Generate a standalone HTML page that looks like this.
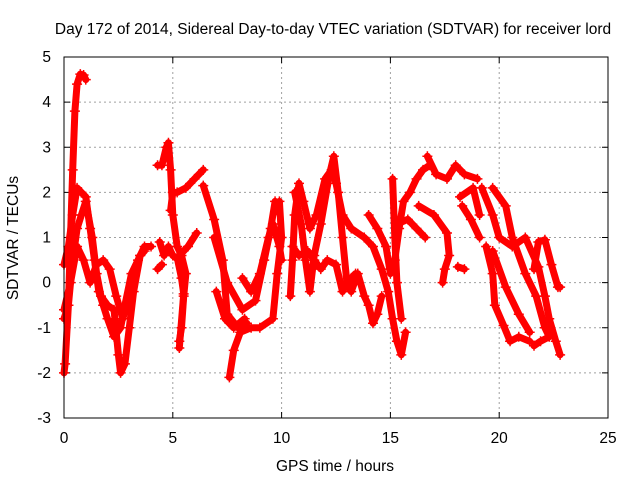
<!DOCTYPE html>
<html><head><meta charset="utf-8"><style>
body{margin:0;background:#fff}
svg{display:block;font-family:"Liberation Sans",Arial,sans-serif}
</style></head><body>
<svg id="chart" width="640" height="480">
<text x="333" y="34" font-size="15.5" text-anchor="middle">Day 172 of 2014, Sidereal Day-to-day VTEC variation (SDTVAR) for receiver lord</text>
<text x="335" y="471" font-size="15.5" text-anchor="middle">GPS time / hours</text>
<text transform="translate(18,238) rotate(-90)" font-size="15.5" text-anchor="middle">SDTVAR / TECUs</text>
<g id="grid"></g>
<g id="ticks"></g>
<g id="series"></g>
<rect x="64" y="57" width="544" height="361" fill="none" stroke="#000" stroke-width="1"/>
</svg>
<script>
const xTicks=[0,5,10,15,20,25];
const yTicks=[-3,-2,-1,0,1,2,3,4,5];
const tracks=[
[[0.0,-2.0],[0.05,-1.8],[0.2,-0.5],[0.3,1.0],[0.4,2.5],[0.5,3.8],[0.6,4.4],[0.75,4.62],[0.9,4.6],[1.0,4.5]],
[[0,0.4],[0.2,0.8],[0.4,1.5],[0.6,2.1],[0.8,2.0],[1.0,1.9],[1.2,1.2],[1.4,0.5],[1.6,-0.2],[1.8,-0.5],[2.0,-0.8],[2.3,-1.2],[2.6,-1.0],[2.8,-0.5],[3.1,0.2],[3.4,0.5],[3.7,0.8],[4.0,0.8]],
[[0,-0.8],[0.2,-0.5],[0.4,0.5],[0.6,1.2],[0.8,1.5],[1.0,1.8],[1.3,1.0],[1.5,0.2],[1.7,-0.3],[2.0,-0.5],[2.3,-0.6],[2.5,-1.6],[2.6,-2.0],[2.8,-1.8],[3.0,-1.0],[3.2,-0.2],[3.5,0.6],[3.7,0.7]],
[[0,-0.6],[0.3,0.0],[0.6,0.8],[0.9,0.5],[1.2,0.0],[1.5,0.4],[1.8,0.5],[2.1,0.3],[2.4,-0.3],[2.7,-0.8],[3.0,-0.3],[3.3,0.3],[3.5,0.6]],
[[4.3,2.6],[4.5,2.6],[4.7,3.0],[4.8,3.1],[4.9,2.5],[5.0,1.5],[5.2,0.8],[5.4,0.6],[5.6,0.2],[5.5,-0.3],[5.4,-1.0],[5.3,-1.3]],
[[4.4,0.9],[4.6,0.6],[4.8,0.8],[5.0,0.6],[5.3,0.5]],
[[4.3,0.3],[4.5,0.4]],
[[4.9,1.6],[5.0,2.0],[5.2,2.0],[5.6,2.1],[6.0,2.3],[6.4,2.5]],
[[6.1,1.1],[5.7,0.8],[5.2,0.55],[5.4,0.1],[5.5,-0.25],[5.3,-1.45]],
[[6.4,2.15],[6.9,1.4],[7.3,0.5],[7.5,-0.7],[8.0,-1.0],[8.4,-0.9]],
[[7.6,-2.1],[7.8,-1.5],[8.1,-1.1],[8.6,-1.0],[9.0,-1.0],[9.6,-0.8],[9.8,0.2],[10.0,1.0],[9.9,1.8]],
[[6.9,1.0],[7.5,0.0],[8.2,-0.6],[8.8,-0.4],[9.2,0.5],[9.5,1.2],[9.7,1.8],[9.8,1.6]],
[[7.0,-0.2],[7.4,-0.8],[7.8,-1.0],[8.3,-0.8]],
[[8.2,0.1],[8.6,-0.2],[9.0,0.2],[9.4,1.0],[9.6,1.3],[9.9,0.8],[10.0,0.5]],
[[10.4,-0.3],[10.5,0.5],[10.6,1.5],[10.8,2.2],[11.0,1.8],[11.3,1.2],[11.6,1.5],[12.0,2.3],[12.3,2.5],[12.5,2.2],[12.8,1.5],[13.2,1.2],[13.8,1.0],[14.2,0.8],[14.6,0.3],[14.9,-0.2],[15.1,-0.8],[15.3,-1.3],[15.5,-1.6],[15.7,-1.1]],
[[10.6,2.0],[10.9,1.3],[11.1,0.5],[11.3,-0.2],[11.5,0.6],[11.8,1.3],[12.2,2.4],[12.4,2.8],[12.6,2.0],[12.8,1.0],[13.0,0.0],[13.2,-0.2],[13.5,0.2],[13.8,-0.3],[14.0,-0.5],[14.2,-0.9],[14.4,-0.7],[14.6,-0.3]],
[[10.5,0.8],[10.8,0.6],[11.2,0.7],[11.5,0.5],[11.8,0.3],[12.1,0.5],[12.5,0.4],[12.8,-0.2],[13.0,0.0],[13.4,0.2]],
[[14.0,1.5],[14.4,1.2],[14.8,0.8],[15.0,0.2],[15.2,0.5],[15.4,1.2],[15.6,1.8],[15.9,2.0],[16.2,2.3],[16.5,2.5],[16.8,2.6]],
[[15.1,2.3],[15.2,1.0],[15.3,0.0],[15.5,-0.8]],
[[15.3,1.3],[15.8,1.4],[16.2,1.2],[16.6,1.0]],
[[16.3,1.7],[17.0,1.5],[17.6,1.1],[17.7,0.6],[17.5,0.3],[17.4,0.0]],
[[16.7,2.8],[17.1,2.4],[17.6,2.3],[18.0,2.6],[18.4,2.4],[19.0,2.3]],
[[18.3,1.7],[18.7,1.4],[19.1,1.0]],
[[18.2,1.9],[18.8,2.1],[19.1,1.5]],
[[18.1,0.35],[18.4,0.3]],
[[19.2,2.1],[19.7,1.5],[20.0,1.0],[20.6,0.8],[21.2,1.0],[21.8,0.35],[22.1,-0.3],[22.3,-0.8],[22.6,-1.3],[22.8,-1.6]],
[[19.7,2.1],[20.3,1.7],[20.6,1.0],[21.2,0.2],[21.7,-0.3],[22.1,-1.0],[22.3,-1.2],[21.9,-1.3],[21.6,-1.4]],
[[19.4,0.8],[19.7,0.2],[19.8,-0.5],[20.2,-0.95],[20.5,-1.3],[20.9,-1.2],[21.4,-1.3]],
[[19.7,0.7],[20.3,-0.1],[20.9,-0.7],[21.4,-1.1]],
[[21.6,0.3],[21.8,0.9],[22.1,0.95],[22.4,0.4],[22.7,-0.1],[22.8,-0.1]]
];
const NS='http://www.w3.org/2000/svg';
const X0=64,X1=608,Y0=418,Y1=57;
function sx(h){return X0+(h-0)/(25-0)*(X1-X0);}
function sy(v){return Y0-(v-(-3))/(5-(-3))*(Y0-Y1);}
const grid=document.getElementById('grid'),ticks=document.getElementById('ticks'),ser=document.getElementById('series');
function mk(tag,attrs,parent){const e=document.createElementNS(NS,tag);for(const k in attrs)e.setAttribute(k,attrs[k]);parent.appendChild(e);return e;}
xTicks.forEach(t=>{
  const x=sx(t);
  if(t>0&&t<25){const g=mk('line',{x1:x,x2:x,y1:Y1,y2:Y0,stroke:'#a0a0a0','stroke-dasharray':'2,3'},grid);
  
  }
  mk('line',{x1:x,x2:x,y1:Y0,y2:Y0-6,stroke:'#000'},ticks);
  mk('line',{x1:x,x2:x,y1:Y1,y2:Y1+6,stroke:'#000'},ticks);
  const l=mk('text',{x:x,y:443,'font-size':15.5,'text-anchor':'middle'},ticks);l.textContent=t;
  
  
});
yTicks.forEach(t=>{
  const y=sy(t);
  if(t>-3&&t<5){const g=mk('line',{x1:X0,x2:X1,y1:y,y2:y,stroke:'#a0a0a0','stroke-dasharray':'2,3'},grid);
  
  }
  mk('line',{x1:X0,x2:X0+6,y1:y,y2:y,stroke:'#000'},ticks);
  mk('line',{x1:X1,x2:X1-6,y1:y,y2:y,stroke:'#000'},ticks);
  const l=mk('text',{x:51,y:y+5,'font-size':15.5,'text-anchor':'end'},ticks);l.textContent=t;
  
  
});
tracks.forEach(tr=>{
  const pts=tr.map(p=>sx(p[0]).toFixed(1)+','+sy(p[1]).toFixed(1)).join(' ');
  const pl=mk('polyline',{points:pts,fill:'none',stroke:'#ff0000','stroke-width':7,'stroke-linejoin':'round','stroke-linecap':'round'},ser);
  
  
  tr.forEach(p=>{
    const x=sx(p[0]),y=sy(p[1]);
    const m=mk('path',{d:`M${x-5},${y}H${x+5}M${x},${y-5}V${y+5}`,stroke:'#ff0000','stroke-width':1.5},ser);
    
    
  });
});
</script>
</body></html>
